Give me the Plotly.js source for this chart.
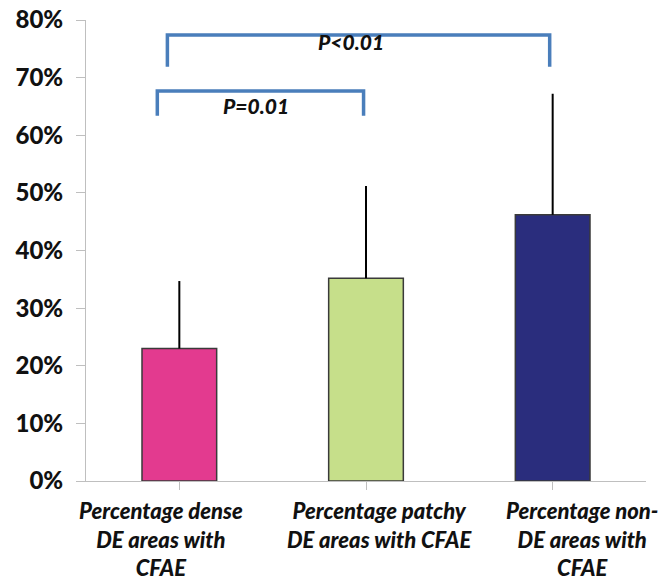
<!DOCTYPE html>
<html><head><meta charset="utf-8">
<script src="https://cdn.plot.ly/plotly-3.0.1.min.js"></script>
<style>html,body{margin:0;padding:0;background:#fff}#chart{width:667px;height:577px}</style>
</head><body><div id="chart"></div>
<script>
const categories = ["Percentage dense<br>DE areas with<br>CFAE", "Percentage patchy<br>DE areas with CFAE", "Percentage non-<br>DE areas with<br>CFAE"];
const values = [0.23, 0.352, 0.462];
const errorsUp = [0.117, 0.160, 0.210];
const barColors = ["#E33A8F", "#C6DF8A", "#2A2D7D"];
const yTickVals = [0, 0.1, 0.2, 0.3, 0.4, 0.5, 0.6, 0.7, 0.8];
const yTickText = ["0%", "10%", "20%", "30%", "40%", "50%", "60%", "70%", "80%"];
// significance brackets (category units / value fraction)
const bracketLabels = ["P<0.01", "P=0.01"];
const bracketX0 = [-0.064, -0.118];
const bracketX1 = [1.984, 0.987];
const bracketTop = [0.774, 0.677];
const bracketBottom = [0.719, 0.634];
const bracketLabelX = [0.92, 0.41];
const bracketLabelY = [0.762, 0.652];
// horizontal offsets of category labels relative to bar centres
const labelOffsets = [-0.10, 0.07, 0.155];

const FONT = "Lato, 'Open Sans', sans-serif";
const xIdx = categories.map((c, i) => i);
const trace = {
  type: "bar",
  x: xIdx,
  y: values,
  marker: {color: barColors, line: {color: "#3a3a3a", width: 1.5}},
  width: 0.4,
  error_y: {type: "data", symmetric: false, array: errorsUp, arrayminus: [0,0,0], color: "#000", thickness: 2, width: 0},
  hoverinfo: "none"
};

const shapes = [];
const annotations = [];
for (let i = 0; i < bracketLabels.length; i++) {
  shapes.push({
    type: "path", xref: "x", yref: "y",
    path: `M ${bracketX0[i]} ${bracketBottom[i]} L ${bracketX0[i]} ${bracketTop[i]} L ${bracketX1[i]} ${bracketTop[i]} L ${bracketX1[i]} ${bracketBottom[i]}`,
    line: {color: "#4A7EBB", width: 3.5}
  });
  annotations.push({
    xref: "x", yref: "y", x: bracketLabelX[i], y: bracketLabelY[i],
    text: "<i>" + bracketLabels[i] + "</i>", showarrow: false,
    font: {family: FONT, size: 21, color: "#111", weight: 900}
  });
}
categories.forEach((c, i) => {
  annotations.push({
    xref: "x", yref: "paper", x: i + labelOffsets[i], y: 0, yshift: -14,
    yanchor: "top", xanchor: "center", align: "center",
    text: "<i>" + c + "</i>", showarrow: false,
    font: {family: FONT, size: 22, color: "#111", weight: 900}
  });
});

const layout = {
  width: 667, height: 577,
  margin: {l: 86, r: 21, t: 20, b: 96},
  paper_bgcolor: "#fff", plot_bgcolor: "#fff",
  showlegend: false,
  xaxis: {
    range: [-0.5, 2.5],
    tickvals: xIdx,
    ticktext: ["", "", ""],
    tickson: "boundaries",
    ticks: "outside", ticklen: 8, tickcolor: "#bfbfbf", tickwidth: 1,
    showline: true, linecolor: "#bfbfbf", linewidth: 1,
    showgrid: false, zeroline: false
  },
  yaxis: {
    range: [0, 0.8],
    tickvals: yTickVals,
    ticktext: yTickText,
    ticks: "outside", ticklen: 9, tickcolor: "#bfbfbf", tickwidth: 1,
    showline: true, linecolor: "#bfbfbf", linewidth: 1,
    showgrid: false, zeroline: false,
    ticklabelstandoff: 8,
    tickfont: {family: FONT, size: 24, color: "#111", weight: 900}
  },
  shapes: shapes,
  annotations: annotations
};
Plotly.newPlot("chart", [trace], layout, {staticPlot: true, displayModeBar: false});
</script></body></html>
